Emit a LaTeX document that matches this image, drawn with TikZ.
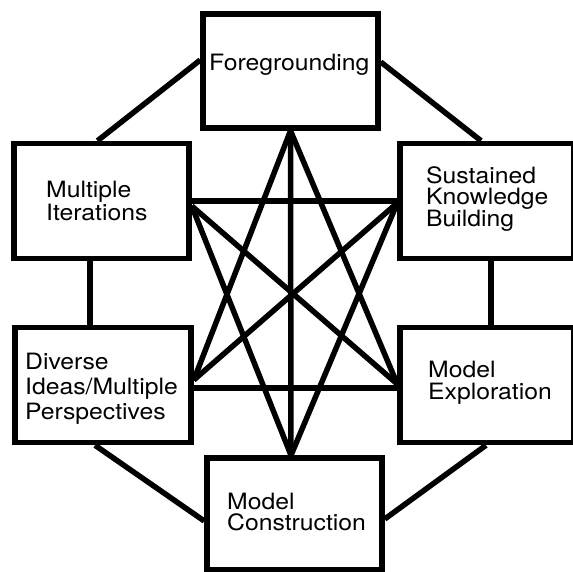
\documentclass[tikz,border=0pt]{standalone}
\usepackage{fontspec}
\setmainfont[FakeStretch=1.1]{TeX Gyre Heros}
\usetikzlibrary{positioning}
\usetikzlibrary{calc}

\begin{document}
\begin{tikzpicture}[x=1pt,y=-1pt]
	\tikzstyle{block} = [draw,line width=5.5pt,fill=white,minimum width=175pt,minimum height=115pt,inner sep=0pt]
	\tikzstyle{caption} = [anchor=north west,inner sep=0pt,align=left,font=\fontsize{22.5}{22}\selectfont]
	\tikzstyle{link} = [line width=5.5pt]

	\useasboundingbox (0,0) rectangle (573,571);

	\node[block,minimum height=114pt] at (290.5,71) (fore) {};
	\node[block] at (101.5,201) (iter) {};
	\node[block,minimum width=174pt] at (487,201) (know) {};
	\node[block,minimum width=176pt] at (103,385) (ideas) {};
	\node[block,minimum width=174pt] at (487,385) (mexp) {};
	\node[block,minimum height=112pt] at (294.5,514) (build) {};

	% outer ring
	\draw[link] ([yshift=11pt]fore.west) -- ([xshift=-4pt]iter.north);
	\draw[link] ([yshift=9pt]fore.east) -- ([xshift=-6pt]know.north);
	\draw[link] ([xshift=-11.5pt]iter.south) -- ([xshift=-13pt]ideas.north);
	\draw[link] ([xshift=4pt]know.south) -- ([xshift=4pt]mexp.north);
	\draw[link] ([xshift=-8pt]ideas.south) -- ([yshift=-7pt]build.west);
	\draw[link] ([xshift=-1pt]mexp.south) -- ([yshift=-5pt]build.east);

	% inner star
	\draw[link] (fore.south) -- ([xshift=-3.5pt]build.north);
	\draw[link] (fore.south) -- ([yshift=5pt]ideas.east);
	\draw[link] (fore.south) -- ([yshift=1pt]mexp.west);
	\draw[link] (iter.east) -- (know.west);
	\draw[link] ([yshift=-5pt]iter.east) -- ([xshift=-3.5pt]build.north);
	\draw[link] ([yshift=-5pt]iter.east) -- ([yshift=1pt]mexp.west);
	\draw[link] ([yshift=-2pt]know.west) -- ([xshift=-3.5pt]build.north);
	\draw[link] ([yshift=-2pt]know.west) -- ([yshift=5pt]ideas.east);
	\draw[link] ([yshift=-3pt]ideas.east) -- ([yshift=-3pt]mexp.west);

	\node[caption] at (209,54) (fore-txt) {Foregrounding};
	\node[caption,font=\fontsize{22.5}{23}\selectfont] at (46,181) (iter-txt) {Multiple\\Iterations};
	\node[caption,font=\fontsize{22.5}{21}\selectfont] at (426,166) (know-txt) {Sustained\\Knowledge\\Building};
	\node[caption,font=\fontsize{22.5}{25}\selectfont] at (25,353) (ideas-txt) {Diverse\\Ideas/Multiple\\Perspectives};
	\node[caption] at (428,361) (mexp-txt) {Model\\Exploration};
	\node[caption,font=\fontsize{22.5}{20.5}\selectfont] at (227,493) (build-txt) {Model\\Construction};
\end{tikzpicture}
\end{document}
